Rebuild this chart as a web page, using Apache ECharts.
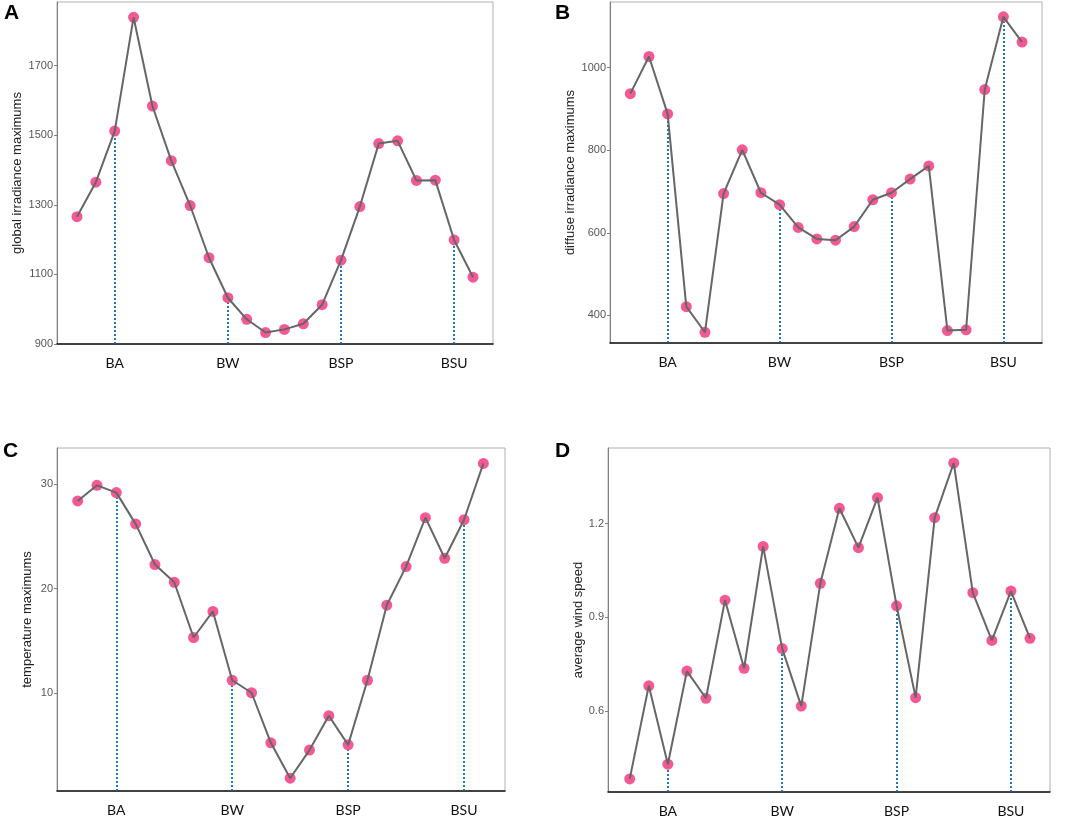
<!DOCTYPE html>
<html>
<head>
<meta charset="utf-8">
<script src="https://cdn.jsdelivr.net/npm/echarts@6/dist/echarts.min.js"></script>
<style>
  html, body { margin: 0; padding: 0; background: #fff; }
  #chart { width: 1065px; height: 818px; }
</style>
</head>
<body>
<div id="chart"></div>
<script>
// x positions are the 22 sample indices; season labels sit on four of them
let seasonNames = ['BA', 'BW', 'BSP', 'BSU']
let seasonIdx = [2, 8, 14, 20]

let globalIrr = [1266, 1365, 1512, 1839, 1584, 1427, 1298, 1148, 1033, 971, 933,
  942, 958, 1013, 1141, 1295, 1476, 1484, 1370, 1371, 1199, 1092]
let diffuseIrr = [937, 1027, 888, 421, 359, 695, 801, 697, 668, 613, 585,
  582, 615, 680, 697, 730, 762, 363, 365, 947, 1123, 1062]
let tempMax = [28.4, 29.9, 29.2, 26.2, 22.3, 20.6, 15.3, 17.8, 11.2, 10.0, 5.2,
  1.8, 4.5, 7.8, 5.0, 11.2, 18.4, 22.1, 26.8, 22.9, 26.6, 32.0]
let windAvg = [0.383, 0.681, 0.430, 0.728, 0.641, 0.955, 0.737, 1.127, 0.800, 0.616, 1.009,
  1.249, 1.123, 1.283, 0.937, 0.643, 1.219, 1.394, 0.979, 0.826, 0.984, 0.833]

let ticksA = [900, 1100, 1300, 1500, 1700]
let ticksB = [400, 600, 800, 1000]
let ticksC = [10, 20, 30]
let ticksD = [0.6, 0.9, 1.2]

let panels = [
  { tag: 'A', name: 'global irradiance maximums', data: globalIrr, ticks: ticksA,
    grid: { left: 57, right: 572, top: 2, bottom: 474 }, x: [-1.06, 22.06], y: [900, 1883], gap: 33,
    tagPos: [4, 3] },
  { tag: 'B', name: 'diffuse irradiance maximums', data: diffuseIrr, ticks: ticksB,
    grid: { left: 610, right: 23, top: 2, bottom: 475 }, x: [-1.09, 22.07], y: [333, 1159], gap: 33,
    tagPos: [555, 3] },
  { tag: 'C', name: 'temperature maximums', data: tempMax, ticks: ticksC,
    grid: { left: 57, right: 560, top: 448, bottom: 27 }, x: [-1.07, 22.12], y: [0.575, 33.48], gap: 23,
    tagPos: [3, 441] },
  { tag: 'D', name: 'average wind speed', data: windAvg, ticks: ticksD,
    grid: { left: 608, right: 15, top: 448, bottom: 26 }, x: [-1.14, 22.05], y: [0.341, 1.442], gap: 23,
    tagPos: [555, 441] },
]

let grids = [], xAxes = [], yAxes = [], series = [], graphics = []

panels.forEach((p, k) => {
  grids.push(Object.assign({ show: true, borderColor: '#b0b0b0', borderWidth: 1, backgroundColor: '#fff' }, p.grid))
  xAxes.push({
    type: 'value', gridIndex: k, min: p.x[0], max: p.x[1],
    axisLine: { show: true, onZero: false, lineStyle: { color: '#111', width: 1.5 } },
    axisTick: { show: false },
    splitLine: { show: false },
    axisLabel: {
      customValues: seasonIdx,
      formatter: v => seasonNames[seasonIdx.indexOf(Math.round(v))] || '',
      fontFamily: 'Lato', fontSize: 14, color: '#111', margin: 12
    }
  })
  yAxes.push({
    type: 'value', gridIndex: k, min: p.y[0], max: p.y[1],
    name: p.name, nameLocation: 'middle', nameRotate: 90, nameGap: p.gap,
    nameTextStyle: { fontFamily: 'Liberation Sans', fontSize: 13, color: '#222' },
    axisLine: { show: true, onZero: false, lineStyle: { color: '#808080', width: 1 } },
    axisTick: { show: true, customValues: p.ticks, length: 3, lineStyle: { color: '#808080' } },
    splitLine: { show: false },
    axisLabel: {
      customValues: p.ticks,
      formatter: v => String(v),
      fontFamily: 'Liberation Sans', fontSize: 11, color: '#555', margin: 4
    }
  })
  let pts = p.data.map((v, i) => [i, v])
  series.push({
    type: 'scatter', xAxisIndex: k, yAxisIndex: k, data: pts, z: 2,
    symbol: 'circle', symbolSize: 11, silent: true,
    itemStyle: { color: '#f4508f', opacity: 0.95 },
    markLine: {
      silent: true, symbol: 'none', z: 1,
      label: { show: false },
      lineStyle: { color: '#1668a3', width: 1.8, type: [2, 2] },
      data: seasonIdx.map(i => [{ coord: [i, p.y[0]] }, { coord: [i, p.data[i]] }])
    }
  })
  series.push({
    type: 'line', xAxisIndex: k, yAxisIndex: k, data: pts, z: 3,
    symbol: 'none', silent: true,
    lineStyle: { color: '#666', width: 2 }
  })
  graphics.push({
    type: 'text', left: p.tagPos[0], top: p.tagPos[1],
    style: { text: p.tag, font: 'bold 21px "Liberation Sans"', fill: '#000' }
  })
})

let myChart = echarts.init(document.getElementById('chart'))
myChart.setOption({
  animation: false,
  grid: grids,
  xAxis: xAxes,
  yAxis: yAxes,
  series,
  graphic: graphics
})
</script>
</body>
</html>
